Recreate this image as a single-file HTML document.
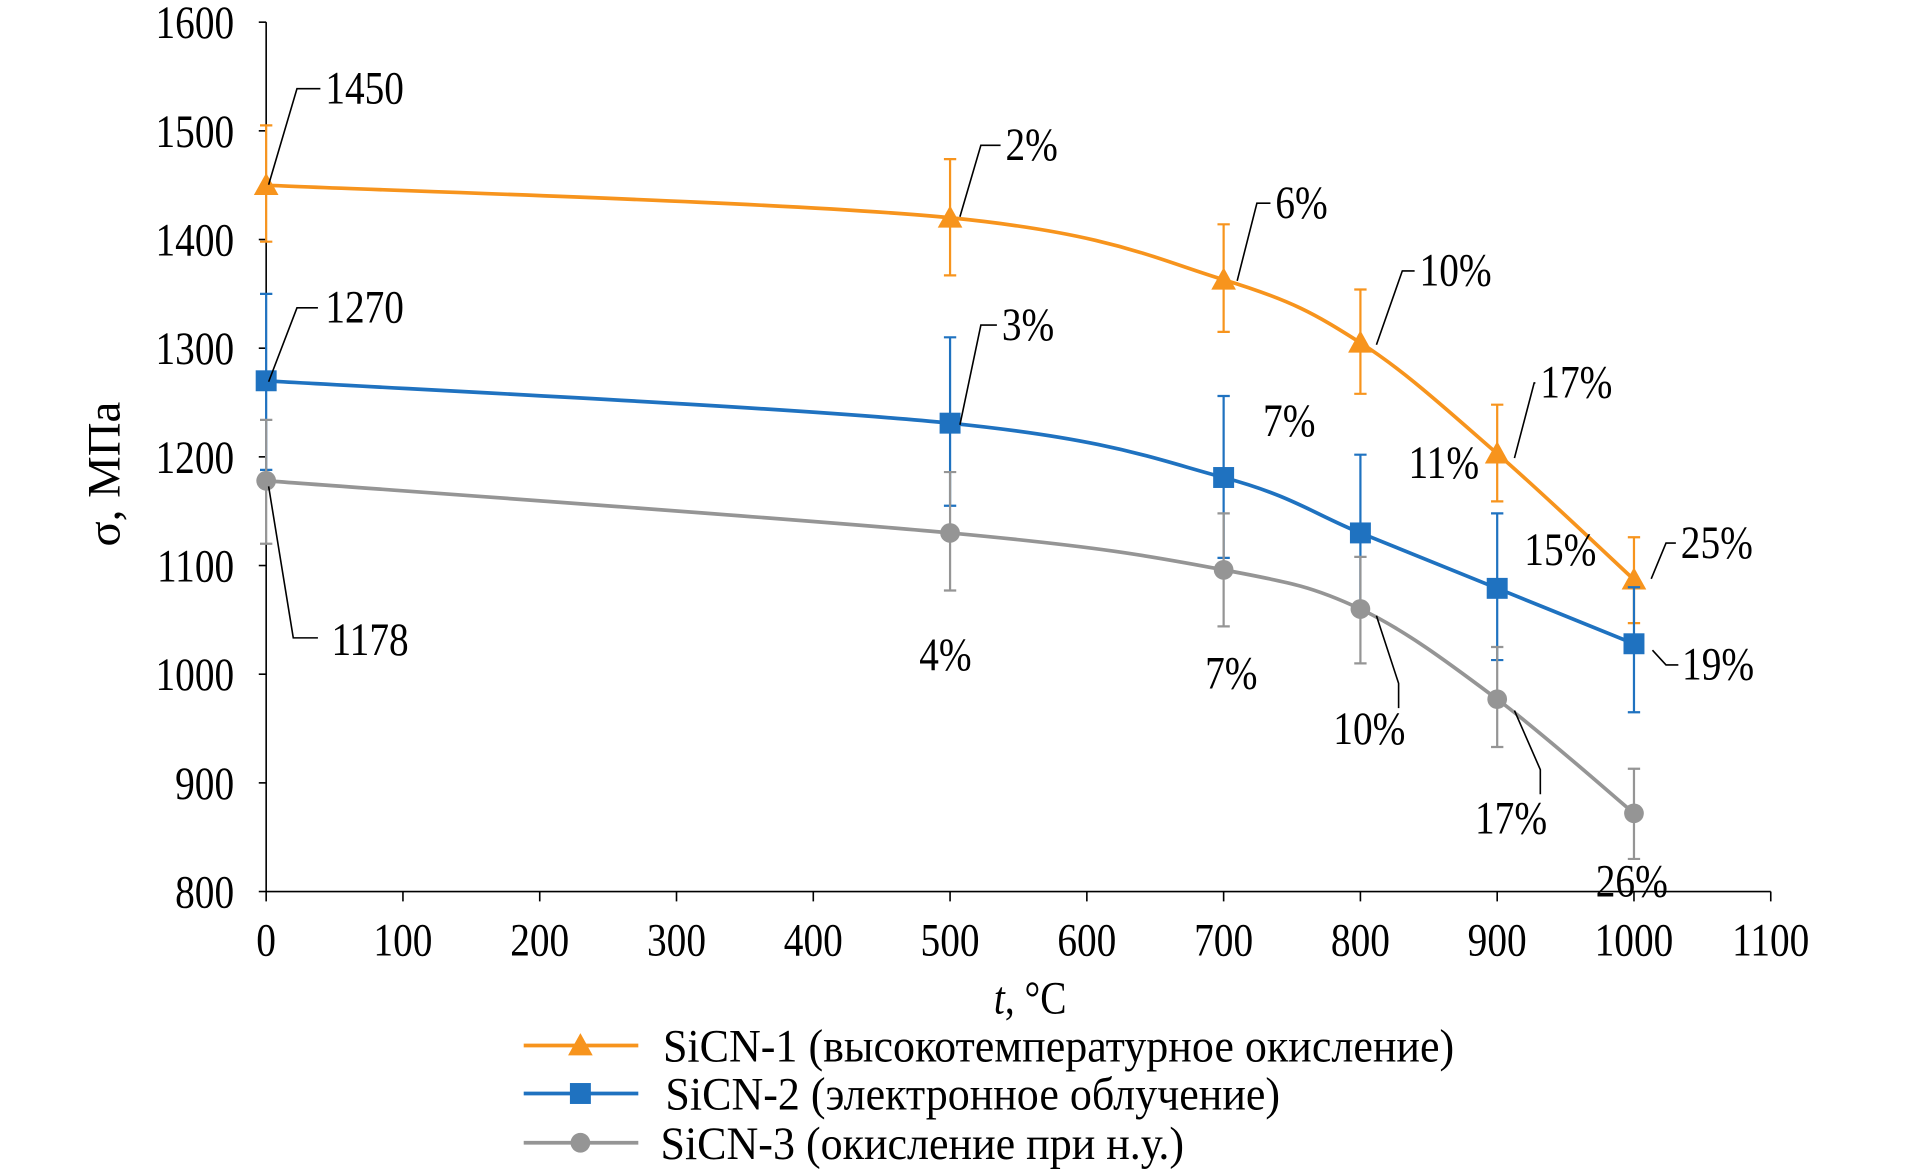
<!DOCTYPE html>
<html><head><meta charset="utf-8"><style>
html,body{margin:0;padding:0;background:#fff;}
svg{display:block;}
text{font-family:"Liberation Serif",serif;fill:#000;}
</style></head><body>
<svg id="chart" width="1910" height="1176" viewBox="0 0 1550 955" preserveAspectRatio="none">
<g id="axes"></g>
<g id="series"></g>
<g id="ann"></g>
<g id="legend"></g>
</svg>
<script>
const temps=[0,500,700,800,900,1000];
const s1=[1450,1420,1363,1305,1203,1087];
const s1hi=[1505,1474,1414,1354,1248,1126];
const s1lo=[1398,1367,1315,1258,1159,1047];
const s2=[1270,1231,1181,1130,1079,1028];
const s2hi=[1350,1310,1256,1202,1148,1080];
const s2lo=[1188,1155,1107,1060,1013,965];
const s3=[1178,1130,1096,1060,977,872];
const s3hi=[1234,1186,1148,1108,1025,913];
const s3lo=[1120,1077,1044,1010,933,830];
const xTicks=[0,100,200,300,400,500,600,700,800,900,1000,1100];
const yTicks=[800,900,1000,1100,1200,1300,1400,1500,1600];
const names=["SiCN-1 (высокотемпературное окисление)","SiCN-2 (электронное облучение)","SiCN-3 (окисление при н.у.)"];

const NS="http://www.w3.org/2000/svg";
const X=v=>216+(v/1100)*(1437-216);
const Y=v=>724-(v-800)/800*(724-18);
function el(tag,attrs,parent,txt){const e=document.createElementNS(NS,tag);for(const k in attrs)e.setAttribute(k,attrs[k]);if(txt!==undefined)e.textContent=txt;parent.appendChild(e);return e;}
const squeeze=[];
const axes=document.getElementById('axes');
let a=el('line',{x1:X(0),y1:Y(1600),x2:X(0),y2:Y(800),stroke:'#000','stroke-width':1.3},axes);


a=el('line',{x1:X(0),y1:Y(800),x2:X(1100),y2:Y(800),stroke:'#000','stroke-width':1.3},axes);


xTicks.forEach(v=>{
 el('line',{x1:X(v),y1:Y(800),x2:X(v),y2:Y(800)+8,stroke:'#000','stroke-width':1.3},axes);
 const t=el('text',{x:X(v),y:Y(800)+52,'text-anchor':'middle','font-size':38},axes,String(v));
 
 
 squeeze.push([t,0.84]);
});
yTicks.forEach(v=>{
 el('line',{x1:X(0)-6,y1:Y(v),x2:X(0),y2:Y(v),stroke:'#000','stroke-width':1.3},axes);
 const t=el('text',{x:190,y:Y(v)+13,'text-anchor':'end','font-size':38},axes,String(v));
 
 
 squeeze.push([t,0.84]);
});
const yg=el('g',{transform:'translate(97,385) rotate(-90)'},axes);
let t=el('text',{x:0,y:0,'font-size':38,'text-anchor':'middle'},yg,'σ, МПа');


t=el('text',{x:836,y:823,'font-size':38,'text-anchor':'middle'},axes);
el('tspan',{'font-style':'italic'},t,'t');
el('tspan',{},t,', °C');


squeeze.push([t,0.84]);

function smooth(pts){
 let d=`M${pts[0][0]},${pts[0][1]}`;
 for(let i=0;i<pts.length-1;i++){
  const p0=pts[i-1]||pts[i],p1=pts[i],p2=pts[i+1],p3=pts[i+2]||p2;
  const k=1/6;
  d+=` C${p1[0]+(p2[0]-p0[0])*k},${p1[1]+(p2[1]-p0[1])*k} ${p2[0]-(p3[0]-p1[0])*k},${p2[1]-(p3[1]-p1[1])*k} ${p2[0]},${p2[1]}`;
 }
 return d;
}
const ser=document.getElementById('series');
const defs=[[s1,s1hi,s1lo,'#F7941D','tri','sicn-1'],[s2,s2hi,s2lo,'#1F72C0','sq','sicn-2'],[s3,s3hi,s3lo,'#959595','circ','sicn-3']];
function marker(g,type,x,y,c){
 if(type==='tri')return el('path',{d:`M${x},${y-10} L${x+10},${y+8} L${x-10},${y+8}Z`,fill:c},g);
 if(type==='sq')return el('rect',{x:x-8.5,y:y-8.5,width:17,height:17,fill:c},g);
 return el('circle',{cx:x,cy:y,r:8,fill:c},g);
}
defs.forEach(([v,hi,lo,c,m,nm])=>{
 const g=el('g',{},ser);
 
 
 temps.forEach((tt,i)=>{
  const x=X(tt);
  const e=el('path',{d:`M${x},${Y(hi[i])}V${Y(lo[i])}M${x-5},${Y(hi[i])}H${x+5}M${x-5},${Y(lo[i])}H${x+5}`,stroke:c,'stroke-width':1.8,fill:'none'},g);
  
  
 });
 const ln=el('path',{d:smooth(temps.map((tt,i)=>[X(tt),Y(v[i])])),stroke:c,'stroke-width':3,fill:'none'},g);
 
 
 temps.forEach((tt,i)=>{
  const mk=marker(g,m,X(tt),Y(v[i]),c);
  
  
 });
});
const ann=document.getElementById('ann');
const labels=[
 ['1450',264,84,'M218,150 L241,72 H260'],
 ['2%',816,130,'M779,176 L796,118 H812'],
 ['6%',1035,177,'M1004,228 L1020,165 H1031'],
 ['10%',1152,232,'M1117,280 L1138,220 H1148'],
 ['17%',1250,323,'M1229,372 L1245,311 H1246'],
 ['25%',1364,453,'M1340,470 L1352,441 H1360'],
 ['1270',264,262,'M218,310 L241,250 H258'],
 ['3%',813,276,'M779,345 L796,264 H809'],
 ['7%',1025,354,null],
 ['11%',1143,388,null],
 ['15%',1237,459,null],
 ['19%',1365,552,'M1341,528 L1352,540 H1362'],
 ['1178',269,532,'M218,395 L238,518 H258'],
 ['4%',746,544,null],
 ['7%',978,559,null],
 ['10%',1082,604,'M1117,500 L1135,555 V575'],
 ['17%',1197,677,'M1229,577 L1250,625 V645'],
 ['26%',1295,728,null]
];
labels.forEach(([s,x,y,d])=>{
 if(d)el('path',{d:d,stroke:'#000','stroke-width':1.3,fill:'none'},ann);
 const tx=el('text',{x:x,y:y,'font-size':38},ann,s);
 
 
 squeeze.push([tx,0.84]);
});
const lg=document.getElementById('legend');
const ly=[849,888,928];
defs.forEach(([v,hi,lo,c,m,nm],i)=>{
 const g=el('g',{},lg);
 
 
 el('line',{x1:425,y1:ly[i],x2:518,y2:ly[i],stroke:c,'stroke-width':3},g);
 marker(g,m,471,ly[i],c);
 const tx=el('text',{x:i===2?536:i===1?540:538,y:ly[i]+13,'font-size':38},g,names[i]);
 squeeze.push([tx,0.94]);
});
squeeze.forEach(([e,f])=>{
 const w=e.getComputedTextLength();
 e.setAttribute('textLength',(w*f).toFixed(1));
 e.setAttribute('lengthAdjust','spacingAndGlyphs');
});
</script>
</body></html>
